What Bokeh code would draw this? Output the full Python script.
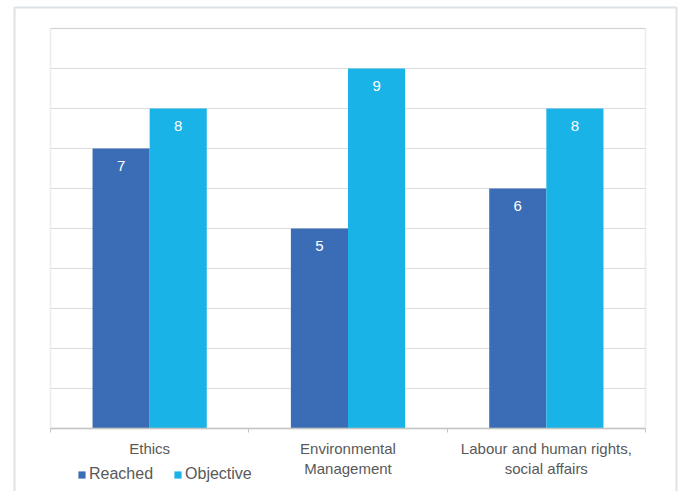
from bokeh.plotting import figure
from bokeh.models import (Range1d, FixedTicker, LinearAxis, Legend, LegendItem,
                          BoxAnnotation, ColumnDataSource)
from bokeh.core.properties import value
from bokeh.embed import file_html
from bokeh.resources import INLINE

# Data
categories = ["Ethics", "Environmental\nManagement", "Labour and human rights,\nsocial affairs"]
reached = [7, 5, 6]
objective = [8, 9, 8]
y_max = 10
grid_values = list(range(0, y_max + 1))

REACHED_COLOR = "#3b6db6"
OBJECTIVE_COLOR = "#19b3e8"
TEXT_COLOR = "#595959"
FRAME_COLOR = "#c4c4c4"
GRID_COLOR = "#dcdcdc"
PANEL_COLOR = "#8d9fac"
FONT = "Liberation Sans"

W, H = 682, 491
# Plot area inside the canvas (pixels): left, right, top, and the y = 0 line
AREA_L, AREA_R, AREA_T, AREA_B = 50, 645, 28, 428
# Outer panel (pixels); its bottom edge runs past the canvas
PANEL_L, PANEL_R, PANEL_T, PANEL_B = 14, 676, 7, H + 30

n = len(categories)
centers = [i + 0.5 for i in range(n)]
bar_w = 0.288

# The frame covers the whole canvas; the ranges are padded so that the
# bars' plot area (0..n, 0..y_max) lands inside the outer panel.
px_x = (AREA_R - AREA_L) / n
px_y = (AREA_B - AREA_T) / y_max
x0 = -AREA_L / px_x
y_top = y_max + AREA_T / px_y
x_range = Range1d(x0, x0 + W / px_x)
y_range = Range1d(y_top - H / px_y, y_top)


def cx(px):
    return x0 + px / px_x


def cy(py):
    return y_top - py / px_y


p = figure(width=W, height=H, output_backend="svg", toolbar_location=None,
           x_range=x_range, y_range=y_range,
           x_axis_location=None, y_axis_location=None,
           min_border=0)
p.background_fill_color = "white"
p.border_fill_color = "white"
p.outline_line_color = None
p.grid.visible = False

# Outer panel border
p.add_layout(BoxAnnotation(left=cx(PANEL_L), right=cx(PANEL_R), top=cy(PANEL_T), bottom=cy(PANEL_B),
                           fill_alpha=0, line_color=PANEL_COLOR, line_width=2,
                           level="underlay"))

# Horizontal gridlines every unit across the plot area
p.segment(x0=[0] * len(grid_values), x1=[n] * len(grid_values),
          y0=grid_values, y1=grid_values, line_color=GRID_COLOR, line_width=1,
          level="underlay")

# Plot-area border
p.add_layout(BoxAnnotation(left=0, right=n, bottom=0, top=y_max,
                           fill_alpha=0, line_color=FRAME_COLOR, line_width=1.6,
                           level="annotation"))

# Category axis at y = 0: labels at group centres, small ticks at group boundaries
xaxis = LinearAxis(ticker=FixedTicker(ticks=centers, minor_ticks=list(range(n + 1))),
                   fixed_location=0, bounds=(0, n))
xaxis.major_label_overrides = {c: lab for c, lab in zip(centers, categories)}
xaxis.major_tick_line_color = None
xaxis.major_tick_out = 6
xaxis.minor_tick_in = 0
xaxis.minor_tick_out = 4
xaxis.minor_tick_line_color = FRAME_COLOR
xaxis.axis_line_color = FRAME_COLOR
xaxis.axis_line_width = 1.4
xaxis.major_label_text_font = FONT
xaxis.major_label_text_font_size = "15px"
xaxis.major_label_text_color = TEXT_COLOR
xaxis.major_label_standoff = 5
p.add_layout(xaxis, "below")

src = ColumnDataSource(dict(
    xr=[c - bar_w / 2 for c in centers],
    xo=[c + bar_w / 2 for c in centers],
    reached=reached, objective=objective,
    rl=[str(v) for v in reached], ol=[str(v) for v in objective],
))

r1 = p.vbar(x="xr", top="reached", width=bar_w, source=src,
            fill_color=REACHED_COLOR, line_color=None)
r2 = p.vbar(x="xo", top="objective", width=bar_w, source=src,
            fill_color=OBJECTIVE_COLOR, line_color=None)

# Value labels inside the top of each bar
for xcol, ycol, lcol in (("xr", "reached", "rl"), ("xo", "objective", "ol")):
    p.text(x=xcol, y=ycol, text=lcol, source=src, text_color="white",
           text_font=value(FONT), text_font_size="15px",
           text_align="center", text_baseline="middle", y_offset=17)

legend = Legend(items=[LegendItem(label="Reached", renderers=[r1]),
                       LegendItem(label="Objective", renderers=[r2])],
                orientation="horizontal", location=(77, 8))
legend.glyph_width = 9
legend.glyph_height = 9
legend.label_standoff = 3
legend.spacing = 20
legend.padding = 0
legend.margin = 0
legend.border_line_color = None
legend.background_fill_alpha = 0
legend.label_text_font = FONT
legend.label_text_font_size = "16px"
legend.label_text_color = TEXT_COLOR
p.add_layout(legend, "center")

open("out.html", "w").write(file_html(p, INLINE))
